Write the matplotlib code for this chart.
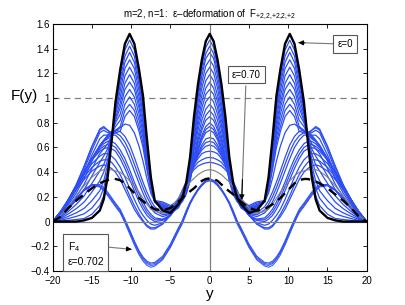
import numpy as np
import matplotlib.pyplot as plt

plt.rcParams['font.family'] = ['Liberation Sans', 'DejaVu Sans']
plt.rcParams['mathtext.fontset'] = 'custom'
plt.rcParams['mathtext.rm'] = 'Liberation Sans'
plt.rcParams['mathtext.it'] = 'Liberation Sans:italic'

# half grid in y (curves are symmetric about y=0)
y_half = [0, 0.5, 1, 1.5, 2, 2.5, 3, 3.5, 4, 5, 6, 7, 7.5, 8, 8.5, 9, 9.6, 10.2,
          10.8, 11.4, 12, 12.5, 13, 13.5, 14, 15, 16, 17, 18, 19, 20]

# eps = 0 (black)
f_eps0 = [1.52, 1.46, 1.31, 1.11, 0.85, 0.52, 0.31, 0.19, 0.14, 0.07, 0.09, 0.17, 0.36, 0.67, 1.02, 1.23,
          1.44, 1.52, 1.44, 1.23, 0.97, 0.65, 0.36, 0.18, 0.09, 0.03, 0.01, 0, 0, 0, 0]

# deformation family, tall central peaks
f_a01 = [1.47, 1.41, 1.26, 1.07, 0.82, 0.50, 0.30, 0.18, 0.13, 0.07, 0.10, 0.17, 0.35, 0.65, 0.98, 1.19,
         1.39, 1.47, 1.39, 1.19, 0.95, 0.65, 0.38, 0.21, 0.13, 0.06, 0.025, 0.017, 0.01, 0.004, 0]
f_a02 = [1.42, 1.36, 1.22, 1.04, 0.80, 0.49, 0.29, 0.18, 0.13, 0.07, 0.10, 0.16, 0.33, 0.63, 0.95, 1.15,
         1.34, 1.42, 1.34, 1.15, 0.93, 0.66, 0.42, 0.27, 0.19, 0.11, 0.063, 0.042, 0.025, 0.01, 0]
f_a03 = [1.37, 1.32, 1.18, 1.00, 0.77, 0.47, 0.29, 0.18, 0.14, 0.08, 0.11, 0.17, 0.33, 0.61, 0.92, 1.11,
         1.29, 1.37, 1.29, 1.11, 0.91, 0.67, 0.46, 0.33, 0.25, 0.17, 0.107, 0.071, 0.043, 0.017, 0]
f_a04 = [1.31, 1.26, 1.13, 0.96, 0.73, 0.45, 0.28, 0.18, 0.14, 0.08, 0.11, 0.16, 0.32, 0.58, 0.88, 1.06,
         1.24, 1.31, 1.24, 1.06, 0.89, 0.68, 0.50, 0.40, 0.33, 0.24, 0.158, 0.105, 0.063, 0.025, 0]
f_a05 = [1.25, 1.20, 1.08, 0.91, 0.70, 0.44, 0.27, 0.18, 0.14, 0.09, 0.12, 0.16, 0.31, 0.56, 0.84, 1.01,
         1.18, 1.25, 1.18, 1.01, 0.87, 0.69, 0.55, 0.46, 0.41, 0.31, 0.208, 0.139, 0.083, 0.033, 0]
f_a06 = [1.19, 1.14, 1.02, 0.87, 0.67, 0.42, 0.26, 0.18, 0.14, 0.09, 0.12, 0.16, 0.30, 0.54, 0.80, 0.96,
         1.12, 1.19, 1.12, 0.96, 0.84, 0.70, 0.59, 0.53, 0.48, 0.37, 0.258, 0.172, 0.103, 0.041, 0]
f_a07 = [1.13, 1.08, 0.97, 0.82, 0.63, 0.40, 0.26, 0.18, 0.15, 0.10, 0.13, 0.16, 0.29, 0.51, 0.76, 0.92,
         1.07, 1.13, 1.07, 0.92, 0.82, 0.70, 0.63, 0.59, 0.55, 0.43, 0.302, 0.202, 0.12, 0.048, 0]
f_a08 = [1.07, 1.03, 0.92, 0.78, 0.60, 0.38, 0.25, 0.17, 0.14, 0.10, 0.13, 0.16, 0.28, 0.49, 0.72, 0.87,
         1.01, 1.07, 1.01, 0.87, 0.80, 0.71, 0.67, 0.65, 0.61, 0.49, 0.347, 0.231, 0.138, 0.055, 0]
f_a09 = [1.01, 0.97, 0.87, 0.74, 0.57, 0.36, 0.24, 0.18, 0.15, 0.11, 0.14, 0.16, 0.27, 0.46, 0.68, 0.82,
         0.95, 1.01, 0.95, 0.82, 0.77, 0.71, 0.70, 0.70, 0.67, 0.54, 0.384, 0.256, 0.153, 0.061, 0]
f_a10 = [0.95, 0.91, 0.82, 0.69, 0.53, 0.35, 0.24, 0.18, 0.16, 0.12, 0.15, 0.16, 0.27, 0.44, 0.64, 0.77,
         0.90, 0.95, 0.90, 0.77, 0.74, 0.71, 0.72, 0.74, 0.72, 0.58, 0.416, 0.277, 0.165, 0.066, 0]
f_a11 = [0.90, 0.86, 0.77, 0.66, 0.50, 0.33, 0.23, 0.18, 0.17, 0.13, 0.16, 0.17, 0.26, 0.42, 0.60, 0.73,
         0.85, 0.90, 0.85, 0.73, 0.72, 0.70, 0.74, 0.77, 0.75, 0.61, 0.441, 0.294, 0.175, 0.07, 0]
f_a12 = [0.85, 0.82, 0.74, 0.63, 0.49, 0.33, 0.22, 0.16, 0.14, 0.11, 0.12, 0.16, 0.23, 0.35, 0.49, 0.61,
         0.72, 0.78, 0.79, 0.76, 0.73, 0.72, 0.74, 0.76, 0.74, 0.61, 0.45, 0.30, 0.18, 0.07, 0]

# deformation family, low central peaks
f_b01 = [0.80, 0.77, 0.70, 0.60, 0.48, 0.36, 0.25, 0.17, 0.11, 0.07, 0.07, 0.12, 0.17, 0.24, 0.32, 0.41,
         0.52, 0.62, 0.69, 0.73, 0.74, 0.73, 0.70, 0.66, 0.62, 0.51, 0.39, 0.27, 0.16, 0.07, 0]
f_b02 = [0.77, 0.745, 0.68, 0.585, 0.475, 0.36, 0.255, 0.175, 0.115, 0.065, 0.055, 0.095, 0.14, 0.20, 0.275, 0.36,
         0.465, 0.565, 0.645, 0.695, 0.72, 0.715, 0.69, 0.655, 0.615, 0.51, 0.395, 0.275, 0.165, 0.075, 0]
f_b03 = [0.74, 0.72, 0.66, 0.57, 0.47, 0.36, 0.26, 0.18, 0.12, 0.06, 0.04, 0.07, 0.11, 0.16, 0.23, 0.31,
         0.41, 0.51, 0.60, 0.66, 0.70, 0.70, 0.68, 0.65, 0.61, 0.51, 0.40, 0.28, 0.17, 0.08, 0]
f_b04 = [0.68, 0.67, 0.62, 0.55, 0.46, 0.37, 0.28, 0.20, 0.13, 0.05, 0.02, 0.03, 0.06, 0.10, 0.16, 0.23,
         0.32, 0.42, 0.51, 0.58, 0.63, 0.65, 0.65, 0.63, 0.60, 0.51, 0.40, 0.29, 0.18, 0.08, 0]
f_b05 = [0.65, 0.64, 0.60, 0.54, 0.46, 0.375, 0.29, 0.21, 0.14, 0.05, 0.015, 0.015, 0.04, 0.075, 0.13, 0.195,
         0.285, 0.38, 0.47, 0.545, 0.60, 0.62, 0.625, 0.61, 0.585, 0.505, 0.40, 0.29, 0.18, 0.08, 0]
f_b06 = [0.62, 0.61, 0.58, 0.53, 0.46, 0.38, 0.30, 0.22, 0.15, 0.05, 0.01, 0.0, 0.02, 0.05, 0.10, 0.16,
         0.25, 0.34, 0.43, 0.51, 0.57, 0.59, 0.60, 0.59, 0.57, 0.50, 0.40, 0.29, 0.18, 0.08, 0]
f_b07 = [0.57, 0.565, 0.55, 0.51, 0.46, 0.40, 0.32, 0.24, 0.17, 0.05, -0.01, -0.03, -0.02, 0.01, 0.05, 0.10,
         0.18, 0.27, 0.36, 0.44, 0.50, 0.53, 0.55, 0.55, 0.53, 0.47, 0.38, 0.28, 0.17, 0.08, 0]
f_b08 = [0.52, 0.515, 0.50, 0.48, 0.44, 0.39, 0.32, 0.25, 0.18, 0.05, -0.02, -0.05, -0.05, -0.03, 0.01, 0.06,
         0.13, 0.21, 0.30, 0.38, 0.44, 0.48, 0.50, 0.50, 0.49, 0.44, 0.36, 0.27, 0.17, 0.08, 0]
f_b09 = [0.48, 0.475, 0.465, 0.45, 0.42, 0.38, 0.32, 0.25, 0.18, 0.06, -0.02, -0.06, -0.06, -0.04, 0.0, 0.04,
         0.10, 0.18, 0.26, 0.34, 0.40, 0.43, 0.45, 0.46, 0.45, 0.41, 0.34, 0.26, 0.17, 0.08, 0]

# thin grey curve
f_grey = [0.42, 0.415, 0.40, 0.38, 0.35, 0.32, 0.28, 0.24, 0.19, 0.11, 0.07, 0.08, 0.10, 0.14, 0.19, 0.24,
          0.29, 0.33, 0.37, 0.40, 0.41, 0.42, 0.42, 0.42, 0.41, 0.36, 0.29, 0.21, 0.12, 0.05, 0]

# eps = 0.70 (dashed)
f_eps070 = [0.35, 0.345, 0.33, 0.30, 0.27, 0.245, 0.22, 0.19, 0.16, 0.11, 0.09, 0.10, 0.12, 0.14, 0.165, 0.19,
            0.23, 0.27, 0.31, 0.335, 0.345, 0.345, 0.335, 0.325, 0.31, 0.27, 0.22, 0.17, 0.11, 0.04, 0]

# F4 branch, eps = 0.702
f_d01 = [0.33, 0.32, 0.29, 0.25, 0.20, 0.14, 0.06, -0.02, -0.08, -0.21, -0.31, -0.36, -0.37, -0.355, -0.32, -0.27,
         -0.19, -0.10, -0.01, 0.07, 0.12, 0.165, 0.21, 0.25, 0.28, 0.29, 0.25, 0.18, 0.11, 0.05, 0]
f_d02 = [0.335, 0.325, 0.295, 0.255, 0.205, 0.145, 0.07, -0.01, -0.07, -0.20, -0.30, -0.35, -0.355, -0.34, -0.305, -0.255,
         -0.175, -0.085, 0.0, 0.08, 0.13, 0.175, 0.22, 0.255, 0.285, 0.295, 0.255, 0.185, 0.115, 0.05, 0]
f_d03 = [0.34, 0.33, 0.30, 0.26, 0.21, 0.15, 0.08, 0.0, -0.06, -0.19, -0.29, -0.34, -0.345, -0.33, -0.295, -0.245,
         -0.165, -0.075, 0.01, 0.09, 0.14, 0.185, 0.23, 0.265, 0.29, 0.30, 0.26, 0.19, 0.12, 0.05, 0]
f_d04 = [0.345, 0.335, 0.305, 0.265, 0.215, 0.16, 0.09, 0.01, -0.05, -0.18, -0.28, -0.33, -0.335, -0.32, -0.285, -0.235,
         -0.155, -0.065, 0.02, 0.10, 0.15, 0.195, 0.24, 0.275, 0.30, 0.30, 0.26, 0.19, 0.12, 0.05, 0]

family = [f_a01, f_a02, f_a03, f_a04, f_a05, f_a06, f_a07, f_a08, f_a09, f_a10, f_a11, f_a12,
          f_b01, f_b02, f_b03, f_b04, f_b05, f_b06, f_b07, f_b08, f_b09]
dip_branch = [f_d01, f_d02, f_d03, f_d04]

x_ticks = [-20, -15, -10, -5, 0, 5, 10, 15, 20]
y_ticks = [-0.4, -0.2, 0, 0.2, 0.4, 0.6, 0.8, 1, 1.2, 1.4, 1.6]
y_ticklabels = ['\u22120.4', '\u22120.2', '0', '0.2', '0.4', '0.6', '0.8', '1', '1.2', '1.4', '1.6']


def mirror_y(h):
    h = np.asarray(h, dtype=float)
    return np.concatenate([-h[:0:-1], h])


def mirror_f(v):
    v = np.asarray(v, dtype=float)
    return np.concatenate([v[:0:-1], v])


yy = mirror_y(y_half)

fig = plt.figure(figsize=(4.06, 3.05), dpi=100)
ax = fig.add_axes([0.1298, 0.1115, 0.9032 - 0.1298, 0.9213 - 0.1115])

blue = '#2d4ef2'
for f in family:
    ax.plot(yy, mirror_f(f), color=blue, lw=0.9, zorder=2)
for f in dip_branch:
    ax.plot(yy, mirror_f(f), color=blue, lw=0.7, zorder=2)
ax.plot(yy, mirror_f(f_grey), color='#808080', lw=0.8, zorder=2.2)
ax.plot(yy, mirror_f(f_eps0), color='black', lw=1.7, zorder=4)
ax.plot(yy, mirror_f(f_eps070), color='black', lw=1.7, dashes=(4, 2.5), zorder=4)

ax.axhline(0, color='#808080', lw=0.9, zorder=2.5)
ax.axvline(0, color='#808080', lw=0.9, zorder=2.5)
ax.axhline(1, color='#808080', lw=0.9, dashes=(5, 3.5), zorder=1)

ax.set_xlim(-20, 20)
ax.set_ylim(-0.4, 1.6)
ax.set_xticks(x_ticks)
ax.set_xticklabels(['\u2212' + str(-t) if t < 0 else str(t) for t in x_ticks])
ax.set_yticks(y_ticks)
ax.set_yticklabels(y_ticklabels)
ax.tick_params(direction='in', top=True, right=True, length=3, width=0.6, labelsize=7, pad=2)
ax.tick_params(axis='x', pad=3.5)
for s in ax.spines.values():
    s.set_linewidth(0.8)

ax.set_title('m=2, n=1:  \u03b5\u2013deformation of  '
             '$\\mathrm{F}_{{+}2{,}2{,}{+}2{,}2{,}{+}2}$',
             fontsize=7, pad=5)
ax.text(-0.091, 0.707, 'F(y)', transform=ax.transAxes, fontsize=11, ha='center', va='center')
ax.text(0.5, -0.093, 'y', transform=ax.transAxes, fontsize=11, ha='center', va='center')

box = dict(boxstyle='square,pad=0.4', fc='white', ec='#555555', lw=0.8)


def pointer(tip, start):
    ax.annotate('', xy=tip, xytext=start,
                arrowprops=dict(arrowstyle='-', color='#777777', lw=0.8, shrinkA=0, shrinkB=0), zorder=6)
    near = (tip[0] + 0.18 * (start[0] - tip[0]), tip[1] + 0.18 * (start[1] - tip[1]))
    ax.annotate('', xy=tip, xytext=near,
                arrowprops=dict(arrowstyle='-|>', color='black', lw=0.8, mutation_scale=7,
                                shrinkA=0, shrinkB=0), zorder=6)


pointer((11.29, 1.449), (15.8, 1.44))
ax.text(17.24, 1.436, '\u03b5=0', fontsize=7, ha='center', va='center', bbox=box, zorder=7)

pointer((4.08, 0.175), (4.6, 1.10))
ax.text(4.65, 1.191, '\u03b5=0.70', fontsize=7, ha='center', va='center', bbox=box, zorder=7)

pointer((-9.94, -0.225), (-13.04, -0.206))
ax.text(-18.1, -0.257, '$\\mathrm{F}_4$\n\u03b5=0.702', fontsize=7.5, ha='left', va='center',
        linespacing=1.4, bbox=box, zorder=7)

fig.savefig('out.png', dpi=100)
